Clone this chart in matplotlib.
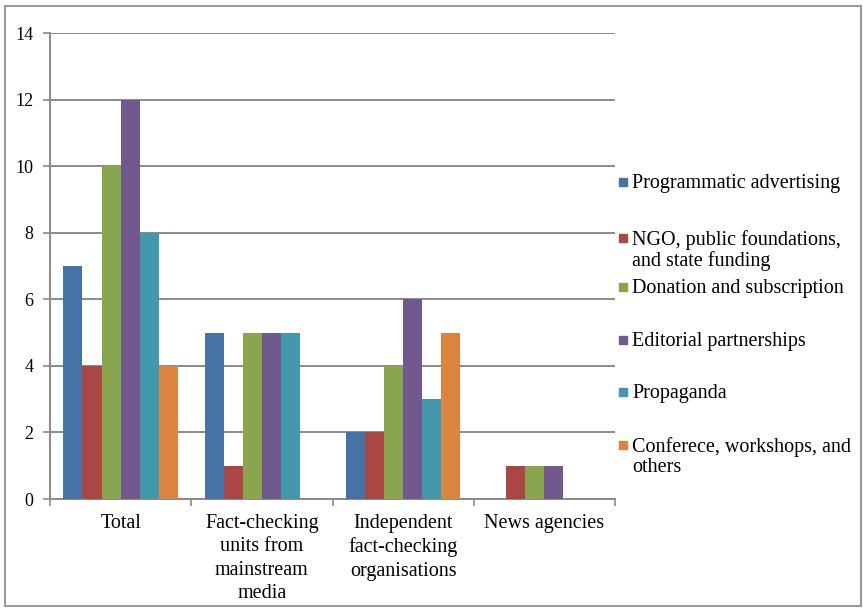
import matplotlib
matplotlib.use("Agg")
import matplotlib.pyplot as plt
import numpy as np
from matplotlib.patches import Rectangle

categories = ["Total", "Fact-checking\nunits from\nmainstream\nmedia",
              "Independent\nfact-checking\norganisations", "News agencies"]
series_names = ["Programmatic advertising", "NGO, public foundations,\nand state funding",
                "Donation and subscription", "Editorial partnerships", "Propaganda",
                "Conferece, workshops, and\nothers"]
programmatic = [7, 5, 2, 0]
ngo = [4, 1, 2, 1]
donation = [10, 5, 4, 1]
editorial = [12, 5, 6, 1]
propaganda = [8, 5, 3, 0]
conference = [4, 0, 5, 0]
yticks = [0, 2, 4, 6, 8, 10, 12, 14]

values = [programmatic, ngo, donation, editorial, propaganda, conference]
colors = ["#4572A7", "#AA4643", "#89A54E", "#71588F", "#4198AF", "#DB843D"]

plt.rcParams['font.family'] = ['Liberation Serif', 'DejaVu Serif']

W, H = 863, 608
fig = plt.figure(figsize=(W / 100, H / 100), dpi=100)
ax = fig.add_axes([50 / W, 1 - 499 / H, (615 - 50) / W, (499 - 33) / H])

n = len(values)
bw = 0.135
x = np.arange(len(categories))
for i, (vals, c) in enumerate(zip(values, colors)):
    offs = (i - (n - 1) / 2) * bw
    ax.bar(x + offs, vals, width=bw, color=c, zorder=3)

ax.set_xlim(-0.5, len(categories) - 0.5)
ax.set_ylim(0, 14)
ax.set_yticks(yticks)
ax.set_yticklabels([str(t) for t in yticks], fontsize=13)
ax.yaxis.grid(True, color="#8a8a8a", linewidth=1.4, zorder=0)
ax.set_axisbelow(True)
for s in ["top", "right"]:
    ax.spines[s].set_visible(False)
for s in ["left", "bottom"]:
    ax.spines[s].set_color("#8a8a8a")
    ax.spines[s].set_linewidth(1.4)
ax.tick_params(axis="y", length=5, width=1.2, color="#8a8a8a", pad=7)
ax.set_xticks(np.arange(len(categories) + 1) - 0.5)
ax.set_xticklabels([])
ax.tick_params(axis="x", length=5, width=1.2, color="#8a8a8a")
for xi, lab in zip(x, categories):
    ax.annotate(lab, xy=(xi, 0), xycoords=("data", "axes fraction"),
                xytext=(0, -10.5), textcoords="offset points",
                ha="center", va="top", fontsize=14.5, linespacing=1.33)

# legend (manual, Excel style)
legend_y = [182, 238, 287, 340, 392, 445]
for name, c, ly in zip(series_names, colors, legend_y):
    fig.patches.append(Rectangle((619 / W, 1 - (ly + 4) / H), 8 / W, 8 / H,
                                 transform=fig.transFigure, color=c, figure=fig))
    fig.text(632 / W, 1 - (ly - 8) / H, name, ha="left", va="top", fontsize=14.5,
             linespacing=1.1)

# outer frame
fig.patches.append(Rectangle((5 / W, 1 - 606 / H), 856 / W, 600 / H, transform=fig.transFigure,
                             fill=False, edgecolor="#9a9a9a", linewidth=1.5, figure=fig))

fig.savefig("out.png", dpi=100)
